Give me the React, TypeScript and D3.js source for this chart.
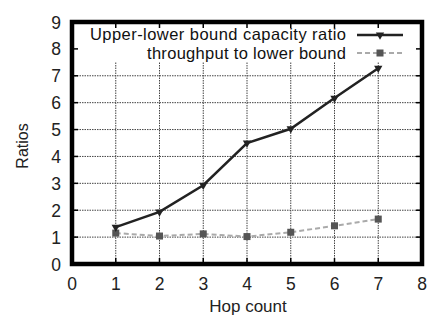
import React from "react";
import * as d3 from "d3";

const hops = [1, 2, 3, 4, 5, 6, 7];
const capacityRatio = [1.37, 1.94, 2.93, 4.5, 5.03, 6.17, 7.28];
const throughputRatio = [1.15, 1.04, 1.12, 1.02, 1.18, 1.42, 1.67];
const xTicks = [0, 1, 2, 3, 4, 5, 6, 7, 8];
const yTicks = [0, 1, 2, 3, 4, 5, 6, 7, 8, 9];
const seriesNames = ["Upper-lower bound capacity ratio", "throughput to lower bound"];

const W = 433;
const H = 320;
const m = { left: 72, right: 11, top: 22, bottom: 56 };
const font = "'Liberation Sans', Arial, sans-serif";

export default function App() {
  const x = d3.scaleLinear().domain([0, 8]).range([m.left, W - m.right]);
  const y = d3.scaleLinear().domain([0, 9]).range([H - m.bottom, m.top]);
  const line = d3
    .line<number>()
    .x((_, i) => x(hops[i]))
    .y((d) => y(d));

  const legendBottom = 62;
  const tri = d3.symbol().type(d3.symbolTriangle).size(30)()!;

  return (
    <svg
      width={W}
      height={H}
      style={{ position: "absolute", left: 0, top: 0, background: "#fff" }}
      fontFamily={font}
    >
      {/* grid */}
      <g stroke="#444" strokeWidth={1} strokeDasharray="1.5,1">
        {xTicks.slice(1, -1).map((t) => (
          <line key={"gx" + t} x1={x(t)} x2={x(t)} y1={y(0)} y2={legendBottom} />
        ))}
        {yTicks.slice(1, -1).filter((t) => y(t) > legendBottom).map((t) => (
          <line key={"gy" + t} x1={x(0)} x2={x(8)} y1={y(t)} y2={y(t)} />
        ))}
      </g>
      {/* ticks on the frame */}
      <g stroke="#000" strokeWidth={1.5}>
        {xTicks.map((t) => (
          <g key={"tx" + t}>
            <line x1={x(t)} x2={x(t)} y1={y(0)} y2={y(0) - 6} />
            <line x1={x(t)} x2={x(t)} y1={y(9)} y2={y(9) + 6} />
          </g>
        ))}
        {yTicks.map((t) => (
          <g key={"ty" + t}>
            <line x1={x(0)} x2={x(0) + 6} y1={y(t)} y2={y(t)} />
            <line x1={x(8)} x2={x(8) - 6} y1={y(t)} y2={y(t)} />
          </g>
        ))}
      </g>

      {/* throughput series */}
      <path d={line(throughputRatio)!} fill="none" stroke="#aaa" strokeWidth={2} strokeDasharray="5,3" />
      {throughputRatio.map((v, i) => (
        <rect key={"s" + i} x={x(hops[i]) - 3.5} y={y(v) - 3.5} width={7} height={7} fill="#555" />
      ))}

      {/* capacity ratio series */}
      <path d={line(capacityRatio)!} fill="none" stroke="#222" strokeWidth={2.5} />
      {capacityRatio.map((v, i) => (
        <path key={"t" + i} d={tri} transform={`translate(${x(hops[i])},${y(v)}) rotate(180)`} fill="#222" />
      ))}

      {/* legend */}
      <g fontSize={16.5} fill="#111">
        <text x={346} y={40} textAnchor="end" textLength={256} lengthAdjust="spacing">{seriesNames[0]}</text>
        <text x={346} y={59} textAnchor="end" textLength={199} lengthAdjust="spacing">{seriesNames[1]}</text>
        <line x1={357} x2={403} y1={35} y2={35} stroke="#222" strokeWidth={2.5} />
        <path d={tri} transform="translate(380,35) rotate(180)" fill="#222" />
        <line x1={357} x2={403} y1={53} y2={53} stroke="#aaa" strokeWidth={2} strokeDasharray="5,3" />
        <rect x={376.5} y={49.5} width={7} height={7} fill="#555" />
      </g>

      {/* frame */}
      <rect x={x(0)} y={y(9)} width={x(8) - x(0)} height={y(0) - y(9)} fill="none" stroke="#000" strokeWidth={4.5} />

      {/* tick labels */}
      <g fontSize={17.5} fill="#222">
        {xTicks.map((t) => (
          <text key={"lx" + t} x={x(t)} y={290} textAnchor="middle">{t}</text>
        ))}
        {yTicks.map((t) => (
          <text key={"ly" + t} x={61} y={y(t) + 6.5} textAnchor="end">{t}</text>
        ))}
      </g>
      <text x={248} y={312} textAnchor="middle" fontSize={17} fill="#222">Hop count</text>
      <text transform="translate(28,146) rotate(-90)" textAnchor="middle" fontSize={16} fill="#222">Ratios</text>
    </svg>
  );
}
